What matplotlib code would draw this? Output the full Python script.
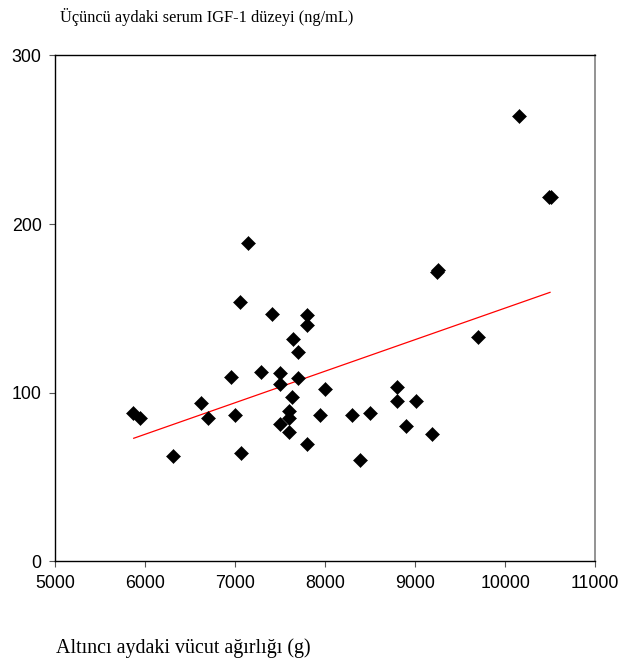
import numpy as np
import matplotlib
matplotlib.use("Agg")
import matplotlib.pyplot as plt

# Body weight at month six (g) and serum IGF-1 at month three (ng/mL)
weight_g = [5865, 5940, 6304, 6618, 6700, 6956, 6993, 7067, 7052, 7145,
            7286, 7405, 7494, 7494, 7494, 7601, 7601, 7601, 7634, 7645,
            7701, 7701, 7794, 7794, 7794, 7945, 8001, 8295, 8387, 8498,
            8802, 8802, 8896, 9010, 9191, 9247, 9250, 9703, 10152, 10490,
            10515]
igf1 = [88.1, 85.2, 62.5, 94.1, 85.0, 109.3, 86.8, 64.3, 153.9, 188.9,
        112.1, 146.7, 111.7, 105.3, 81.4, 89.2, 84.8, 76.7, 97.6, 131.8,
        124.1, 108.5, 146.1, 140.0, 69.6, 86.8, 102.2, 86.8, 60.1, 87.8,
        103.2, 95.3, 80.4, 95.3, 75.3, 171.4, 173.0, 132.8, 264.0, 215.8,
        215.8]

# regression line end points
fit_x = [5870, 10500]
fit_y = [73.0, 159.5]

x_ticks = [5000, 6000, 7000, 8000, 9000, 10000, 11000]
y_ticks = [0, 100, 200, 300]

fig = plt.figure(figsize=(6.35, 6.64), dpi=100)
ax = fig.add_axes([0.0874, 0.1545, 0.8496, 0.7622])

ax.plot(fit_x, fit_y, color="red", lw=0.9, zorder=2)
ax.plot(weight_g, igf1, linestyle="none", marker="D", markersize=7,
        color="black", markeredgewidth=0.4, zorder=3)

ax.set_xlim(5000, 11000)
ax.set_ylim(0, 300)
ax.set_xticks(x_ticks)
ax.set_yticks(y_ticks)

for side in ["left", "top", "bottom"]:
    ax.spines[side].set_color("black")
    ax.spines[side].set_linewidth(1.0)
ax.spines["right"].set_color("#808080")
ax.spines["right"].set_linewidth(1.2)

ax.tick_params(direction="out", length=4, width=0.8, color="#555555",
               labelsize=12.8, pad=6)
for lab in ax.get_xticklabels() + ax.get_yticklabels():
    lab.set_family("Liberation Sans")

fig.text(60 / 635, 1 - 17 / 664, "Üçüncü aydaki serum IGF-1 düzeyi (ng/mL)",
         family="Liberation Serif", fontsize=11.8, ha="left", va="center")
fig.text(56 / 635, 1 - 648 / 664, "Altıncı aydaki vücut ağırlığı (g)",
         family="Liberation Serif", fontsize=14.4, ha="left", va="center")

fig.savefig("out.png", dpi=100)
